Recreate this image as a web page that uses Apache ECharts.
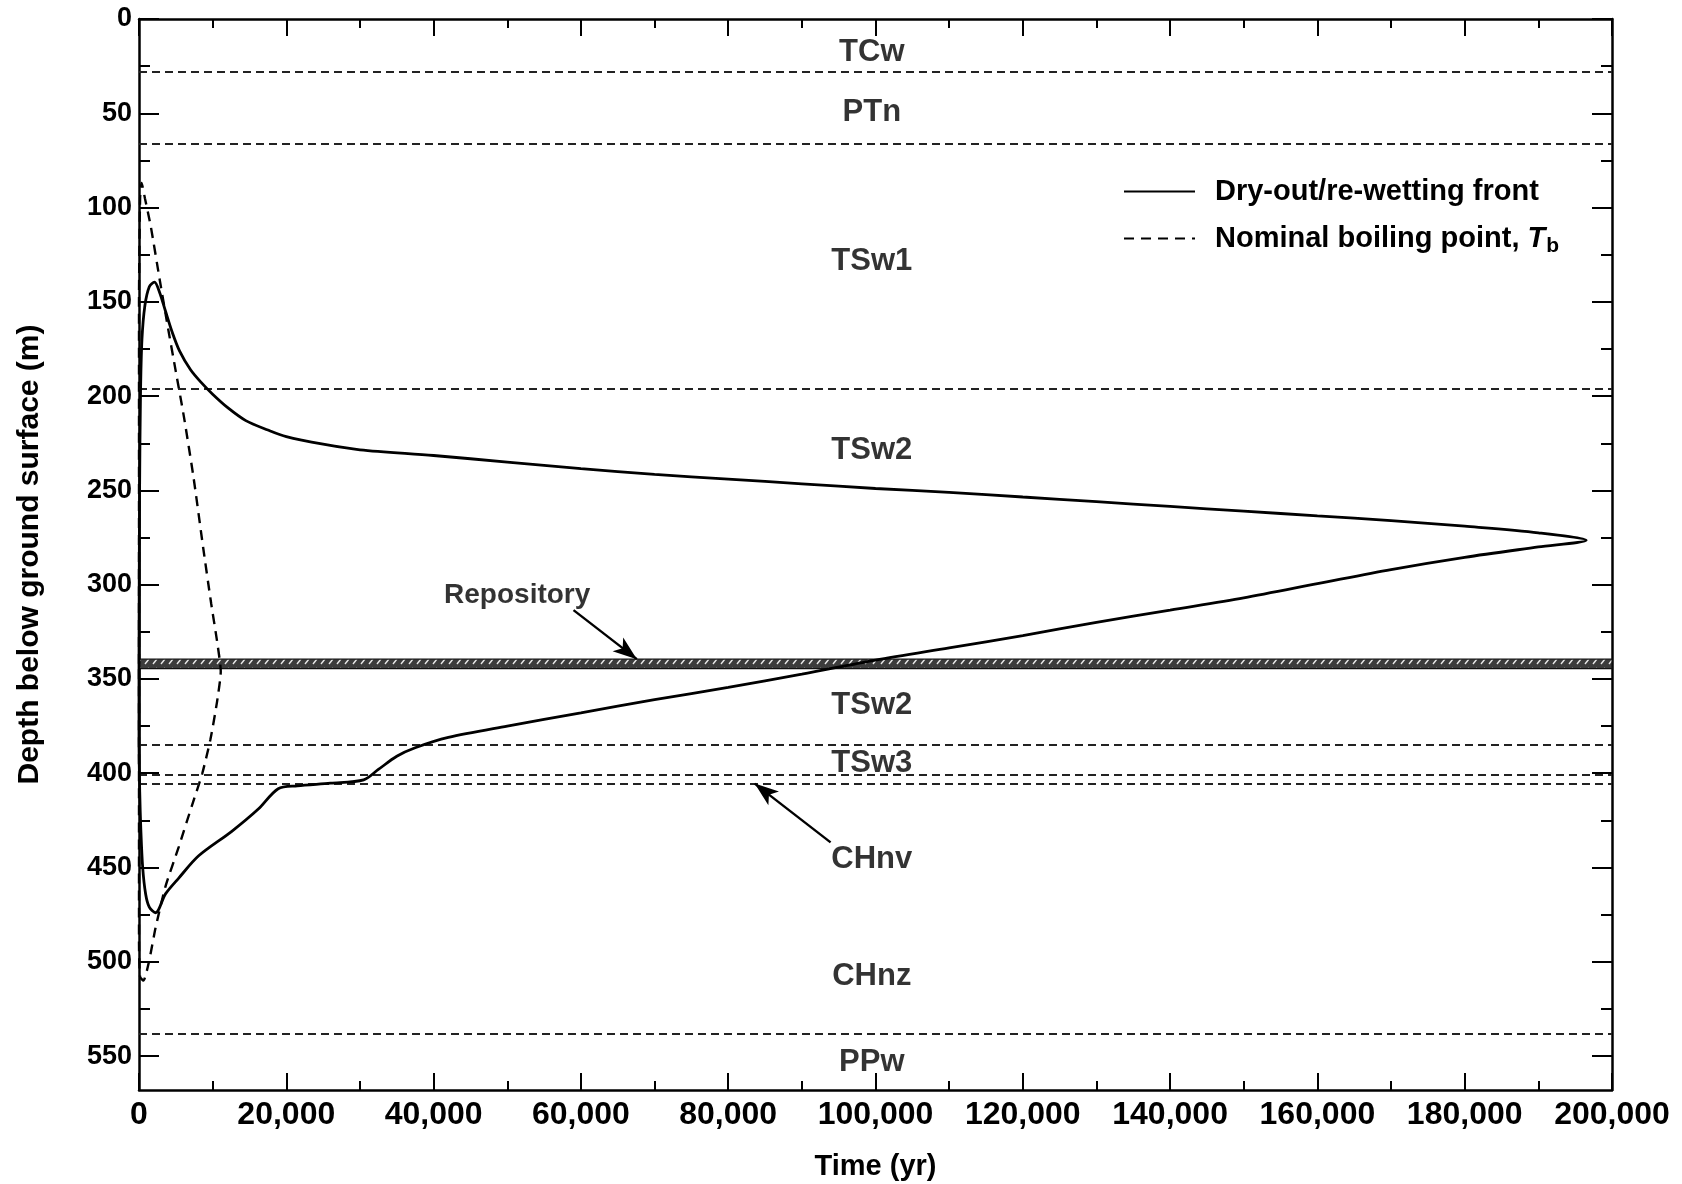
<!DOCTYPE html>
<html><head><meta charset="utf-8">
<script src="https://cdn.jsdelivr.net/npm/echarts@6/dist/echarts.min.js"></script>
<style>html,body{margin:0;padding:0;background:#fff}#c{width:1682px;height:1184px}</style>
</head><body><div id="c"></div>
<script>
// ---- data ----
const frontTime  = [0,30,80,200,400,800,1400,2100,2800,3600,4500,5500,7000,8500,10000,12000,14500,17500,20000,25000,30000,40000,50000,60000,70000,80000,90000,100000,110000,120000,130000,140000,150000,160000,170000,180000,190000,196500,
  190000,180000,170000,160000,150000,140000,130000,120000,110000,100000,90000,80000,70000,60000,50000,42000,37500,35000,32500,30500,26000,21500,18900,16200,12600,8100,5400,3600,2250,1400,900,500,250,100,0,0];
const frontDepth = [342,300,250,200,170,152,142,139.5,145,155,166,176,186,193,199,206,213,218,221.5,225.5,228.5,231.5,235,238.5,241.5,244,246.5,249,251,253.5,256,258.5,261,263.5,266,269,272.5,276.5,
  280,285.5,292,299.5,307,313.5,320,327,333.5,340,347.5,354.5,361,368,375,381,386.5,391,398,403.5,405.3,406.7,408.2,419,430.8,443.8,455.6,464,474,471,464,450,430,410,380,342];
const boilTime  = [0,0,150,350,800,1600,2800,3900,5000,6100,7400,8700,9800,10600,11100,10600,9700,8600,7200,5400,3600,2250,1350,600,150,0,0];
const boilDepth = [342,150,95,87,95,110,138,163,187,211,243,280,310,330,346,362,382,400,417,439,460,482,500,510,508,490,342];
const layerBoundaries = [28, 66, 196, 385, 401, 405.5, 538];
const repositoryDepths = [339.5, 344.5];
const unitNames  = ['TCw','PTn','TSw1','TSw2','TSw2','TSw3','CHnv','CHnz','PPw'];
const unitDepths = [18, 49.5, 128.7, 228.9, 363.8, 394.6, 445.8, 507.9, 553.4];
const unitTime = 99500;
const repoLabel = ['Repository', 51350, 305.7];
const arrowFrom = [[59000, 313.5], [93900, 436.7]];
const arrowTo   = [[67600, 339.5], [83600, 405.5]];
const xMin = 0, xMax = 200000, xInterval = 20000;
const yMin = 0, yMax = 568;
const yMajorTicks = [0,50,100,150,200,250,300,350,400,450,500,550];
const yMinorTicks = [25,75,125,175,225,275,325,375,425,475,525];
const seriesNames = ['Dry-out/re-wetting front', 'Nominal boiling point, Tb'];

// ---- build ----
const FONT = 'Liberation Sans, Arial, Helvetica, sans-serif';
const zip = (a, b) => a.map((v, i) => [v, b[i]]);

const pc = document.createElement('canvas'); pc.width = 8; pc.height = 9;
const g = pc.getContext('2d');
g.fillStyle = '#3c3c3c'; g.fillRect(0, 0, 8, 9);
g.strokeStyle = '#e8e8e8'; g.lineWidth = 1.4;
g.beginPath(); g.moveTo(1, 7); g.lineTo(5, 2); g.stroke();

const chart = echarts.init(document.getElementById('c'), null, {renderer: 'canvas'});
const GRID = {left: 139, right: 70, top: 19, bottom: 94, containLabel: false, outerBoundsMode: 'none'};
const yAxisBase = (pos, show) => ({
  type: 'value', gridIndex: 0, position: pos, inverse: true, min: yMin, max: yMax,
  axisLine: {show: true, onZero: false, lineStyle: {color: '#000', width: 2.5}},
  axisTick: {show: true, inside: true, length: 20, customValues: yMajorTicks, lineStyle: {color: '#000', width: 2}},
  axisLabel: {show: show, customValues: yMajorTicks, fontSize: 27, fontWeight: 'bold', fontFamily: FONT, color: '#000', margin: 7},
  splitLine: {show: false}
});
const yMinorAxis = (pos) => ({
  type: 'value', gridIndex: 1, position: pos, inverse: true, min: yMin, max: yMax,
  axisLine: {show: false, onZero: false},
  axisTick: {show: true, inside: true, length: 11, customValues: yMinorTicks, lineStyle: {color: '#000', width: 2}},
  axisLabel: {show: false}, splitLine: {show: false}
});
const xAxisBase = (pos, show) => ({
  type: 'value', gridIndex: 0, position: pos, min: xMin, max: xMax, interval: xInterval,
  axisLine: {show: true, onZero: false, lineStyle: {color: '#000', width: 2.5}},
  axisTick: {show: true, inside: true, length: 17, lineStyle: {color: '#000', width: 2}},
  minorTick: {show: true, splitNumber: 2, length: 9, lineStyle: {color: '#000', width: 2}},
  axisLabel: {show: show, fontSize: 32, fontWeight: 'bold', fontFamily: FONT, color: '#000', margin: 9},
  splitLine: {show: false}, minorSplitLine: {show: false}
});

const xb = xAxisBase('bottom', true);
xb.name = 'Time (yr)'; xb.nameLocation = 'middle'; xb.nameGap = 62;
xb.nameTextStyle = {fontSize: 29, fontWeight: 'bold', fontFamily: FONT, color: '#000'};
const yl = yAxisBase('left', true);
yl.name = 'Depth below ground surface (m)'; yl.nameLocation = 'middle'; yl.nameGap = 94; yl.nameRotate = 90;
yl.nameTextStyle = {fontSize: 30, fontWeight: 'bold', fontFamily: FONT, color: '#000'};

const unitData = unitNames.map((n, i) => [unitTime, unitDepths[i], n]);

chart.setOption({
  backgroundColor: '#fff',
  animation: false,
  grid: [GRID, Object.assign({}, GRID)],
  xAxis: [xb, xAxisBase('top', false),
    {type: 'value', gridIndex: 1, min: xMin, max: xMax, show: false, axisLine: {onZero: false}}],
  yAxis: [yl, yAxisBase('right', false), yMinorAxis('left'), yMinorAxis('right')],
  legend: {
    data: seriesNames, orient: 'vertical', left: 1118, top: 172,
    itemWidth: 71, itemHeight: 20, itemGap: 18,
    itemStyle: {opacity: 0},
    textStyle: {fontSize: 29, fontWeight: 'bold', fontFamily: FONT, color: '#000', padding: [0, 0, 0, 15],
      rich: {it: {fontSize: 29, fontWeight: 'bold', fontStyle: 'italic', fontFamily: FONT, color: '#000'},
             sub: {fontSize: 21, fontWeight: 'bold', fontFamily: FONT, color: '#000', verticalAlign: 'bottom', padding: [16, 0, 0, 1]}}},
    formatter: n => n === seriesNames[1] ? 'Nominal boiling point, {it|T}{sub|b}' : n
  },
  series: [
    {name: seriesNames[0], type: 'line', data: zip(frontTime, frontDepth), symbol: 'none', smooth: 0.3,
     lineStyle: {color: '#000', width: 2.8}, itemStyle: {color: '#000'}, z: 5},
    {name: seriesNames[1], type: 'line', data: zip(boilTime, boilDepth), symbol: 'none', smooth: 0.2,
     lineStyle: {color: '#000', width: 2.4, type: [10, 7]}, itemStyle: {color: '#000'}, z: 4},
    {name: 'boundaries', type: 'line', data: [], silent: true,
     markLine: {silent: true, symbol: 'none', label: {show: false},
       lineStyle: {color: '#222', width: 1.8, type: [8, 5]},
       data: layerBoundaries.map(d => ({yAxis: d}))}},
    {name: 'repository', type: 'line', data: [], silent: true,
     markArea: {silent: true, label: {show: false},
       itemStyle: {color: {image: pc, repeat: 'repeat'}, borderColor: '#111', borderWidth: 1.2},
       data: [[{yAxis: repositoryDepths[0]}, {yAxis: repositoryDepths[1]}]]}},
    {name: 'arrows', type: 'line', data: [], silent: true,
     markLine: {silent: true, symbol: ['none', 'arrow'], symbolSize: [13, 24], label: {show: false},
       lineStyle: {color: '#000', width: 2.4, type: 'solid'},
       data: arrowFrom.map((f, i) => [{coord: f}, {coord: arrowTo[i]}])}},
    {name: 'labels', type: 'scatter', data: unitData, symbolSize: 0, silent: true,
     label: {show: true, position: 'inside', formatter: p => p.data[2], fontSize: 31, fontWeight: 'bold', fontFamily: FONT, color: '#000'}},
    {name: 'repoLabel', type: 'scatter', data: [[repoLabel[1], repoLabel[2], repoLabel[0]]], symbolSize: 0, silent: true,
     label: {show: true, position: 'inside', formatter: p => p.data[2], fontSize: 28, fontWeight: 'bold', fontFamily: FONT, color: '#000'}}
  ]
});
</script></body></html>
